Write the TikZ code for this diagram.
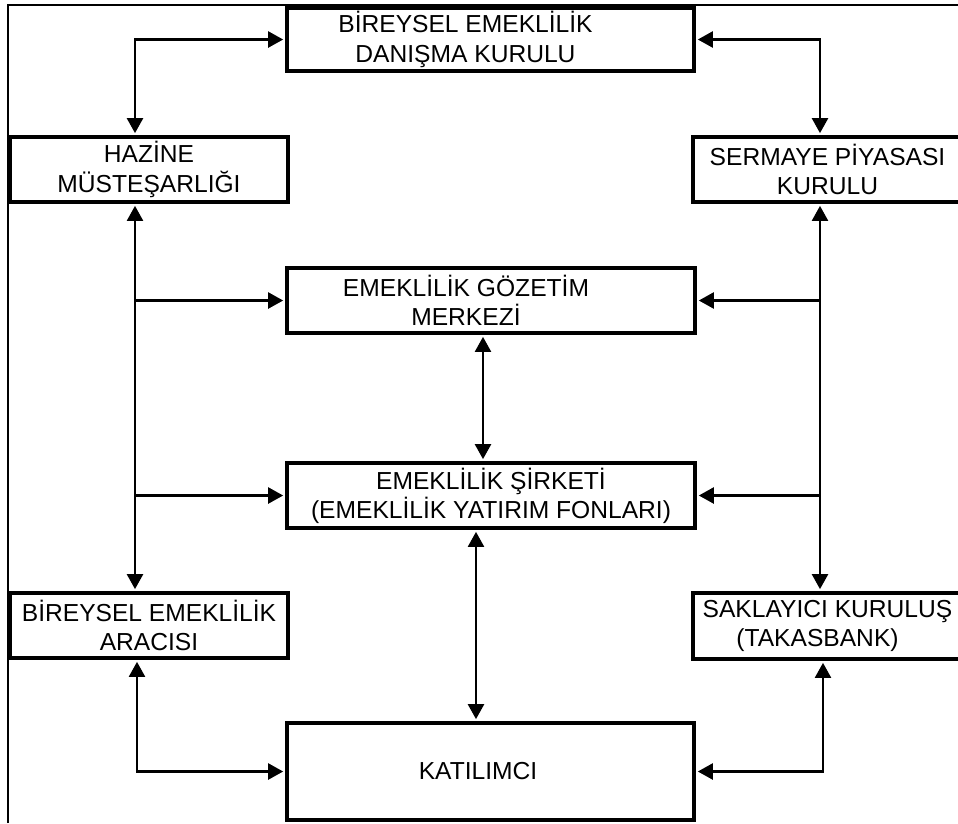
\documentclass[tikz,border=0pt]{standalone}
\usepackage{fontspec}
\setmainfont{Liberation Sans}
\usetikzlibrary{arrows.meta}
\tikzset{
  kutu/.style ={draw, line width=2pt, align=center, inner sep=0pt, font=\fontsize{14}{16.6}\selectfont},
  ok/.style   ={-{Triangle[length=3mm, width=3.2mm]}, line width=1.3pt, shorten >=1.2pt},  % one way
  cift/.style ={{Triangle[length=3mm, width=3.2mm]}-{Triangle[length=3mm, width=3.2mm]}, line width=1.3pt, shorten >=1.2pt, shorten <=1.2pt}, % both ways
}
\begin{document}
\begin{tikzpicture}[x=0.02cm, y=-0.02cm]
  \useasboundingbox (0,0) rectangle (958,823);
  % frame (left and top only)
  \draw[line width=1.3pt] (8,823) -- (8,5) -- (958,5);

  % boxes
  \node[kutu, minimum width=8.14cm, minimum height=1.26cm] (dank) at (490.5,39.5)
    {BİREYSEL EMEKLİLİK\hspace*{1cm}\\DANIŞMA KURULU\hspace*{1cm}};
  \node[kutu, minimum width=5.56cm, minimum height=1.3cm] (hazine) at (149,169.5)
    {HAZİNE\\MÜSTEŞARLIĞI};
  \node[kutu, minimum width=5.38cm, minimum height=1.3cm] (spk) at (827.5,169.5)
    {SERMAYE PİYASASI\\KURULU};
  \node[kutu, minimum width=8.16cm, minimum height=1.3cm] (gozetim) at (491,300.5)
    {EMEKLİLİK GÖZETİM\hspace*{1cm}\\MERKEZİ\hspace*{1cm}};
  \node[kutu, minimum width=8.16cm, minimum height=1.3cm] (sirket) at (491,495.5)
    {EMEKLİLİK ŞİRKETİ\\(EMEKLİLİK YATIRIM FONLARI)};
  \node[kutu, minimum width=5.56cm, minimum height=1.3cm] (aracisi) at (149,625.5)
    {BİREYSEL EMEKLİLİK\\ARACISI};
  \node[kutu, minimum width=5.38cm, minimum height=1.32cm] (saklayici) at (827.5,626)
    {SAKLAYICI KURULUŞ\\(TAKASBANK)\hspace*{0.4cm}};
  \node[kutu, minimum width=8.14cm, minimum height=1.94cm] (katilimci) at (490.5,771.5)
    {KATILIMCI\hspace*{0.5cm}};

  % trunk lines
  \coordinate (sol) at (135,40);
  \coordinate (sag) at (820,40);
  \coordinate (orta1) at (483,0);
  \coordinate (orta2) at (476,0);
  \coordinate (altsol) at (137,0);
  \coordinate (altsag) at (823,0);

  % top
  \draw[cift] (dank.west) -| (hazine.north -| sol);
  \draw[cift] (dank.east) -| (spk.north -| sag);
  % left side
  \draw[cift] (hazine.south -| sol) -- (aracisi.north -| sol);
  \draw[ok] (gozetim.west -| sol) -- (gozetim.west);
  \draw[ok] (sirket.west -| sol) -- (sirket.west);
  % right side
  \draw[cift] (spk.south -| sag) -- (saklayici.north -| sag);
  \draw[ok] (gozetim.east -| sag) -- (gozetim.east);
  \draw[ok] (sirket.east -| sag) -- (sirket.east);
  % middle
  \draw[cift] (gozetim.south -| orta1) -- (sirket.north -| orta1);
  \draw[cift] (sirket.south -| orta2) -- (katilimci.north -| orta2);
  % bottom
  \draw[cift] (katilimci.west) -| (aracisi.south -| altsol);
  \draw[cift] (katilimci.east) -| (saklayici.south -| altsag);
\end{tikzpicture}
\end{document}
